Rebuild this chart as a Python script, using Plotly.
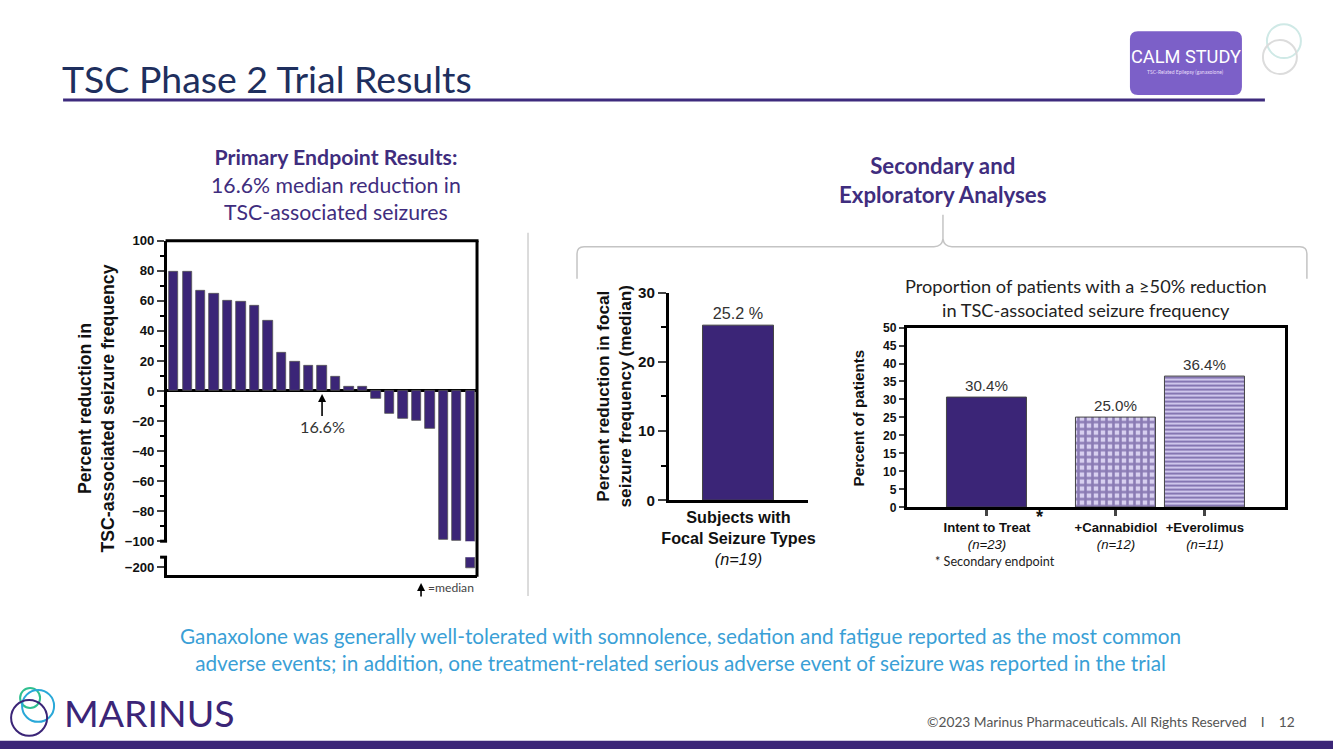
import plotly.graph_objects as go

# ---------------- data ----------------
wf_values = [79.4, 79.4, 66.8, 64.4, 60.2, 59.3, 56.9, 46.9, 25.4, 19.2, 16.6, 16.6,
             9.3, 3.1, 3.1, -5.1, -15.0, -18.8, -20.1, -25.0, -99.3, -99.8, -202.0]
wf_patients = list(range(1, len(wf_values) + 1))
wf_median_patient = 12
wf_median_label = "16.6%"
wf_yticks_upper = [100, 80, 60, 40, 20, 0, -20, -40, -60, -80, -100]
wf_yticks_lower = [-200]

focal_categories = ["<b>Subjects with</b><br><b>Focal Seizure Types</b><br><i>(n=19)</i>"]
focal_values = [25.2]

resp_categories = ["<b>Intent to Treat</b><br><i>(n=23)</i>",
                   "<b>+Cannabidiol</b><br><i>(n=12)</i>",
                   "<b>+Everolimus</b><br><i>(n=11)</i>"]
resp_values = [30.4, 25.0, 36.4]

# ---------------- layout helpers ----------------
W, H = 1333, 749
SX, SY = W / (W + 16), H / (H + 16)
def X(p): return (p / SX - 8) / W
def Y(p): return 1 - (p / SY - 8) / H
FS = 1.012  # font compensation

PURPLE = "#3b2577"
NAVY = "#1e2f5e"
TXTPURPLE = "#3f2d7e"
AX = "Liberation Sans"
SANS = "Lato"

fig = go.Figure()

# waterfall upper
fig.add_trace(go.Bar(x=wf_patients, y=wf_values, marker=dict(color=PURPLE, line=dict(color="#555", width=0.8)),
                     width=0.7, xaxis="x", yaxis="y", showlegend=False, hoverinfo="skip"))
# waterfall lower (broken axis)
fig.add_trace(go.Bar(x=wf_patients, y=wf_values, marker=dict(color=PURPLE, line=dict(color="#555", width=0.8)),
                     width=0.7, xaxis="x2", yaxis="y2", showlegend=False, hoverinfo="skip"))
# focal
fig.add_trace(go.Bar(x=[0], y=focal_values, marker=dict(color=PURPLE, line=dict(color="#444", width=1)),
                     width=0.504, xaxis="x3", yaxis="y3", showlegend=False,
                     text=[f"{v:.1f} %" for v in focal_values], textposition="outside",
                     textfont=dict(family=AX, size=16 * FS, color="#333"), cliponaxis=False, hoverinfo="skip"))
# responders
resp_pos = [80, 209, 298]
fills = [PURPLE, "#d8d0f0", "#cfc6ec"]
patterns = [dict(shape=""), dict(shape="+", fgcolor=PURPLE, size=7, solidity=0.6, fillmode="overlay"),
            dict(shape="-", fgcolor=PURPLE, size=4, solidity=0.5, fillmode="overlay")]
for i in range(3):
    fig.add_trace(go.Bar(x=[resp_pos[i]], y=[resp_values[i]], width=80,
                         marker=dict(color=fills[i], pattern=patterns[i], line=dict(color="#444", width=1)),
                         xaxis="x4", yaxis="y4", showlegend=False,
                         text=[f"{resp_values[i]:.1f}%"], textposition="outside",
                         textfont=dict(family=AX, size=15 * FS, color="#333"), cliponaxis=False, hoverinfo="skip"))

tickfont_b = dict(family=AX, size=13 * FS, color="#111", weight="bold")

layout = dict(
    autosize=True, margin=dict(l=0, r=0, t=0, b=0, pad=0),
    paper_bgcolor="white", plot_bgcolor="rgba(0,0,0,0)", bargap=0,
    xaxis=dict(domain=[X(167), X(477)], range=[0.5, 23.5], anchor="y", showticklabels=False,
               showline=False, ticks="", showgrid=False, zeroline=False, fixedrange=True),
    yaxis=dict(domain=[Y(541), Y(240)], range=[-100, 100], anchor="x", tickvals=wf_yticks_upper,
               showline=True, linewidth=3, linecolor="black", ticks="outside", ticklen=7, tickwidth=2,
               minor=dict(dtick=10, ticks="outside", ticklen=4, tickwidth=2, tickcolor="black"),
               tickfont=tickfont_b, showgrid=False, zeroline=True, zerolinewidth=3, zerolinecolor="black"),
    xaxis2=dict(domain=[X(167), X(477)], range=[0.5, 23.5], anchor="y2", showticklabels=False,
                showline=True, linewidth=3, linecolor="black", ticks="", showgrid=False, zeroline=False),
    yaxis2=dict(domain=[Y(575), Y(557)], range=[-216, -180], anchor="x2", tickvals=wf_yticks_lower,
                showline=True, linewidth=3, linecolor="black", ticks="outside", ticklen=7, tickwidth=2,
                tickfont=tickfont_b, showgrid=False, zeroline=False),
    xaxis3=dict(domain=[X(669), X(808)], range=[-0.5, 0.5], anchor="y3", tickvals=[0], ticktext=focal_categories,
                showline=True, linewidth=3, linecolor="black", ticks="", showgrid=False, zeroline=False,
                tickfont=dict(family=AX, size=16 * FS, color="#111"), tickangle=0),
    yaxis3=dict(domain=[Y(500), Y(292)], range=[0, 30], anchor="x3", tickvals=[0, 10, 20, 30],
                showline=True, linewidth=3, linecolor="black", ticks="outside", ticklen=8, tickwidth=2,
                minor=dict(dtick=5, ticks="outside", ticklen=5, tickwidth=2, tickcolor="black"),
                tickfont=dict(family=AX, size=15 * FS, color="#111", weight="bold"), showgrid=False, zeroline=False),
    xaxis4=dict(domain=[X(907), X(1285)], range=[0, 378], anchor="y4", tickvals=resp_pos, ticktext=resp_categories,
                showline=True, linewidth=3, linecolor="black", mirror=True, ticks="outside", ticklen=6, tickwidth=3,
                tickfont=dict(family=AX, size=13 * FS, color="#111"), tickangle=0, showgrid=False, zeroline=False),
    yaxis4=dict(domain=[Y(507), Y(327)], range=[0, 50], anchor="x4", dtick=5,
                showline=True, linewidth=3, linecolor="black", mirror=True, ticks="outside", ticklen=5, tickwidth=2,
                tickfont=dict(family=AX, size=12 * FS, color="#111", weight="bold"), showgrid=False, zeroline=False),
)
fig.update_layout(**layout)

shapes = []
def line(x0, y0, x1, y1, color="black", w=3):
    shapes.append(dict(type="line", xref="paper", yref="paper", x0=X(x0), y0=Y(y0), x1=X(x1), y1=Y(y1),
                       line=dict(color=color, width=w)))

# waterfall frame
line(165.5, 240, 478.5, 240)
line(477, 240, 477, 576.5)
# broken-axis marks
line(160, 541, 167, 541, w=3)
line(160, 557, 167, 557, w=3)

# header rule
line(63, 99, 1265, 99, color="#3d2b7d", w=3)
# footer bar
shapes.append(dict(type="rect", xref="paper", yref="paper", x0=-0.02, x1=1.02, y0=-0.03, y1=Y(741),
                   fillcolor="#3b2577", line=dict(width=0)))
# vertical divider
line(528, 232, 528, 596, color="#d0d0d0", w=1.5)

# bracket
def P(x, y): return f"{X(x):.5f},{Y(y):.5f}"
br = (f"M {P(577,278)} L {P(577,253)} Q {P(577,246)} {P(584,246)} L {P(934,246)} "
      f"Q {P(942,246)} {P(943,238)} L {P(943,214)} M {P(943,238)} Q {P(944,246)} {P(952,246)} "
      f"L {P(1300,246)} Q {P(1307,246)} {P(1307,253)} L {P(1307,278)}")
shapes.append(dict(type="path", xref="paper", yref="paper", path=br, line=dict(color="#c4c4c4", width=1.5)))

# CALM STUDY badge
rb = (f"M {P(1138,30)} L {P(1234,30)} Q {P(1242,30)} {P(1242,38)} L {P(1242,86)} Q {P(1242,94)} {P(1234,94)} "
      f"L {P(1138,94)} Q {P(1130,94)} {P(1130,86)} L {P(1130,38)} Q {P(1130,30)} {P(1138,30)} Z")
shapes.append(dict(type="path", xref="paper", yref="paper", path=rb, fillcolor="#7c60c8", line=dict(width=0)))

def circle(cx, cy, r, color, w=2):
    shapes.append(dict(type="circle", xref="paper", yref="paper", x0=X(cx - r), x1=X(cx + r),
                       y0=Y(cy + r), y1=Y(cy - r), line=dict(color=color, width=w)))
circle(1284, 40, 17, "#cfe9e6", 2)
circle(1280, 56, 17, "#dcdcdc", 2)
# Marinus logo circles
circle(30, 698, 10, "#2fbf8f", 2)
circle(38, 706, 16, "#29a8d8", 2)
circle(29, 718, 18, "#3b2577", 2)

fig.update_layout(shapes=shapes)

ann = []
def text(x, y, t, size, color="#111", family=SANS, xanchor="center", yanchor="middle", align="center", angle=0, **kw):
    ann.append(dict(xref="paper", yref="paper", x=X(x), y=Y(y), text=t, showarrow=False,
                    font=dict(family=family, size=size * FS, color=color, **kw),
                    xanchor=xanchor, yanchor=yanchor, align=align, textangle=angle))

text(60, 77, "TSC Phase 2 Trial Results", 37, color=NAVY, xanchor="left")
text(336, 183.5, "<b>Primary Endpoint Results:</b><br>16.6% median reduction in<br>TSC-associated seizures", 21,
     color=TXTPURPLE)
text(943, 179, "<b>Secondary and<br>Exploratory Analyses</b>", 22, color=TXTPURPLE)
text(1086, 297, "Proportion of patients with a ≥50% reduction<br>in TSC-associated seizure frequency", 18,
     color="#222")
# axis titles
text(96, 408, "Percent reduction in<br>TSC-associated seizure frequency", 17.5, family=AX, angle=-90, weight="bold")
text(614, 396, "Percent reduction in focal<br>seizure frequency (median)", 17, family=AX, angle=-90, weight="bold")
text(858, 417, "Percent of patients", 15, family=AX, angle=-90, weight="bold")
# notes
text(1040, 517, "*", 18, family=AX, weight="bold")
text(933, 561, "* Secondary endpoint", 12.5, color="#222", xanchor="left")
# bottom message
text(681, 650, "Ganaxolone was generally well-tolerated with somnolence, sedation and fatigue reported as the most common"
     "<br>adverse events; in addition, one treatment-related serious adverse event of seizure was reported in the trial",
     20.5, color="#3a9fd6")
# footer
text(1297, 722, "©2023 Marinus Pharmaceuticals. All Rights Reserved    I    12", 13.6, color="#555", xanchor="right")
text(62, 713, "MARINUS", 37, color="#3b2577", xanchor="left")
# badge text
text(1186, 55, "CALM STUDY", 18, color="white", family="Roboto")
text(1186, 71, "TSC-Related Epilepsy (ganaxolone)", 5, color="#e6dcf8")

# median arrow in waterfall (data coords)
ann.append(dict(xref="x", yref="y", x=wf_median_patient, y=-2, text=wf_median_label, showarrow=True,
                arrowhead=2, arrowsize=1, arrowwidth=1.6, arrowcolor="black", ax=0, ay=33,
                font=dict(family=SANS, size=16 * FS, color="#333")))
# =median legend
ann.append(dict(xref="paper", yref="paper", x=X(421), y=Y(583), text="", showarrow=True,
                arrowhead=2, arrowsize=1, arrowwidth=1.6, arrowcolor="black", ax=0, ay=15))
text(426, 587, "=median", 12, color="#444", xanchor="left")

fig.update_layout(annotations=ann)
fig.write_html("out.html", default_width="100vw", default_height="100vh",
               config=dict(displayModeBar=False, responsive=True),
               post_script="document.documentElement.style.margin='0';document.body.style.margin='0';"
                           "document.body.style.overflow='hidden';")
